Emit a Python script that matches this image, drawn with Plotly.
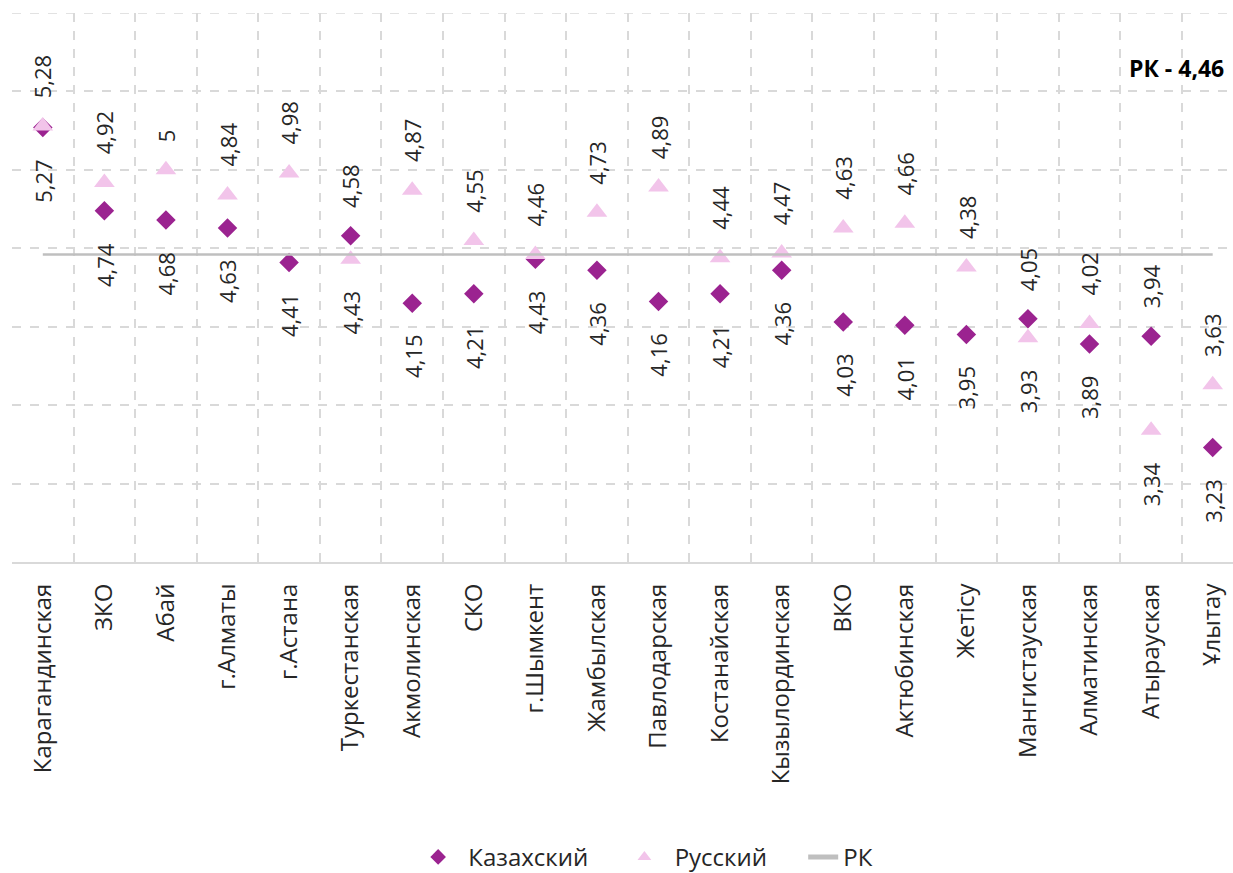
import plotly.graph_objects as go

categories = ["Карагандинская", "ЗКО", "Абай", "г.Алматы", "г.Астана", "Туркестанская",
              "Акмолинская", "СКО", "г.Шымкент", "Жамбылская", "Павлодарская", "Костанайская",
              "Кызылординская", "ВКО", "Актюбинская", "Жетісу", "Мангистауская", "Алматинская",
              "Атырауская", "Ұлытау"]
kazakh = [5.27, 4.74, 4.68, 4.63, 4.41, 4.58, 4.15, 4.21, 4.43, 4.36, 4.16, 4.21,
          4.36, 4.03, 4.01, 3.95, 4.05, 3.89, 3.94, 3.23]
russian = [5.28, 4.92, 5.0, 4.84, 4.98, 4.43, 4.87, 4.55, 4.46, 4.73, 4.89, 4.44,
           4.47, 4.63, 4.66, 4.38, 3.93, 4.02, 3.34, 3.63]
rk_value = 4.46
series_names = ["Казахский", "Русский", "РК"]

FONT = "Open Sans"
TXT = "#262626"
C_KAZ = "#9B2390"
C_RUS = "#F2C4EA"
C_RK = "#BFBFBF"
GRID = "#D9D9D9"
NB = "\u00a0"
PRE = NB + "\u2009"

fig = go.Figure()
fig.add_trace(go.Scatter(x=categories, y=kazakh, mode="markers",
                         name=PRE + series_names[0] + NB * 5,
                         marker=dict(symbol="diamond", size=15, color=C_KAZ)))
fig.add_trace(go.Scatter(x=categories, y=russian, mode="markers",
                         name=PRE + series_names[1] + NB * 5,
                         marker=dict(symbol="triangle-up", size=18, color=C_RUS)))
fig.add_trace(go.Scatter(x=[categories[0], categories[-1]], y=[rk_value, rk_value],
                         mode="lines", name=series_names[2], line=dict(color=C_RK, width=2.5)))

def fmt(v):
    s = ("%.2f" % v).rstrip("0").rstrip(".")
    return s.replace(".", ",")

annotations = []
for c, k, r in zip(categories, kazakh, russian):
    for v, is_top in [(k, k >= r), (r, r > k)]:
        annotations.append(dict(
            x=c, y=v, xref="x", yref="y", text=fmt(v), showarrow=False,
            textangle=-90, yanchor="bottom" if is_top else "top",
            yshift=26 if is_top else -30,
            font=dict(family=FONT, size=22, color=TXT)))

annotations.append(dict(x=0.994, y=0.90, xref="paper", yref="paper", text="<b>РК - 4,46</b>",
                        showarrow=False, xanchor="right", yanchor="middle",
                        font=dict(family=FONT, size=23, color="#000000")))

fig.update_layout(
    width=1233, height=873,
    margin=dict(l=12, r=0, t=13, b=311),
    paper_bgcolor="white", plot_bgcolor="white",
    font=dict(family=FONT, size=22, color=TXT),
    showlegend=True,
    legend=dict(orientation="h", x=0.521, y=0.018, xref="paper", yref="container",
                xanchor="center", yanchor="middle",
                font=dict(family=FONT, size=24, color=TXT), itemsizing="constant"),
    annotations=annotations,
    shapes=[dict(type="line", xref="paper", yref="y", x0=0, x1=1, y0=6.0, y1=6.0,
                 line=dict(color=GRID, width=1.5, dash="dash"), layer="below")],
)
fig.update_xaxes(type="category", range=[-0.5, 19.33], tickson="boundaries",
                 showgrid=True, gridcolor=GRID, griddash="dash", gridwidth=1.5,
                 showline=True, linecolor=GRID, linewidth=2,
                 ticks="", tickangle=-90, tickfont=dict(family=FONT, size=24, color=TXT),
                 ticklabelstandoff=10, automargin=False)
fig.update_yaxes(range=[2.5, 6.0], dtick=0.5, tick0=0, showticklabels=False,
                 showgrid=True, gridcolor=GRID, griddash="dash", gridwidth=1.5,
                 zeroline=False, showline=False, automargin=False)

fig.write_html("out.html", config={"displayModeBar": False},
               post_script="document.body.style.margin='0';")
